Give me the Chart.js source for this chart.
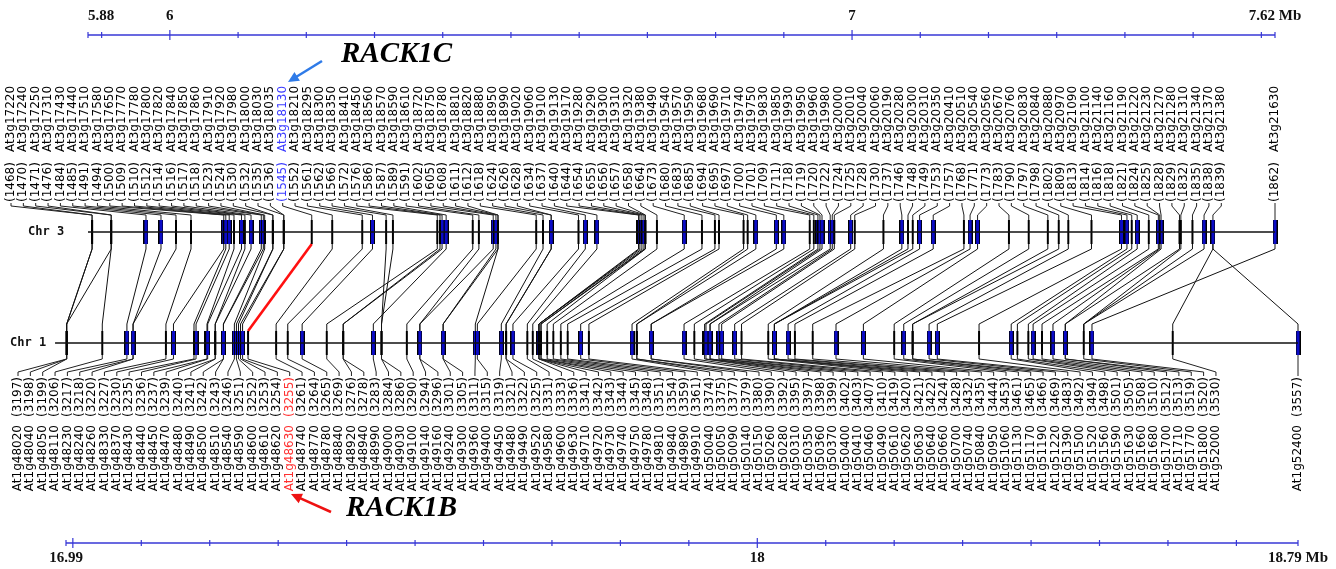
<!DOCTYPE html>
<html>
<head>
<meta charset="utf-8">
<script src="https://cdn.jsdelivr.net/npm/chart.js@4.4.1/dist/chart.umd.min.js"></script>
<style>
  html, body { margin: 0; padding: 0; background: #fff; }
</style>
</head>
<body>
<canvas id="chart" width="1336" height="569"></canvas>
<script>
// chromosome 3 genes (top row)
const chr3Names = [
  'At3g17220','At3g17240','At3g17250','At3g17310','At3g17430','At3g17440','At3g17510','At3g17580','At3g17650','At3g17770',
  'At3g17780','At3g17800','At3g17820','At3g17840','At3g17850','At3g17860','At3g17910','At3g17920','At3g17980','At3g18000',
  'At3g18030','At3g18035','At3g18130','At3g18210','At3g18295','At3g18300','At3g18350','At3g18410','At3g18450','At3g18560',
  'At3g18570','At3g18590','At3g18610','At3g18720','At3g18750','At3g18780','At3g18810','At3g18820','At3g18880','At3g18950',
  'At3g18990','At3g19020','At3g19060','At3g19100','At3g19130','At3g19170','At3g19280','At3g19290','At3g19300','At3g19310',
  'At3g19320','At3g19380','At3g19490','At3g19540','At3g19570','At3g19590','At3g19680','At3g19690','At3g19710','At3g19740',
  'At3g19750','At3g19830','At3g19850','At3g19930','At3g19950','At3g19960','At3g19980','At3g20000','At3g20010','At3g20040',
  'At3g20060','At3g20190','At3g20280','At3g20300','At3g20310','At3g20350','At3g20410','At3g20510','At3g20540','At3g20560',
  'At3g20670','At3g20760','At3g20830','At3g20840','At3g20880','At3g20970','At3g21090','At3g21100','At3g21140','At3g21160',
  'At3g21190','At3g21220','At3g21230','At3g21270','At3g21280','At3g21310','At3g21340','At3g21370','At3g21380','At3g21630'
];
const chr3Ids = [
  1468,1470,1471,1476,1484,1485,1491,1494,1500,1509, 1510,1512,1514,1516,1517,1518,1523,1524,1530,1532,
  1535,1536,1545,1552,1561,1562,1566,1572,1576,1586, 1587,1589,1591,1602,1605,1608,1611,1612,1618,1624,
  1626,1628,1634,1637,1640,1644,1654,1655,1656,1657, 1658,1664,1673,1680,1683,1685,1694,1695,1697,1700,
  1701,1709,1711,1718,1719,1720,1722,1724,1725,1728, 1730,1737,1746,1748,1749,1753,1757,1768,1771,1773,
  1783,1790,1797,1798,1802,1809,1813,1814,1816,1818, 1821,1824,1825,1828,1829,1832,1835,1838,1839,1862
];
// position in Mb
const chr3Pos = [
  5.886,5.886,5.914,5.914,5.965,5.987,6.009,6.031,6.079,6.082, 6.087,6.094,6.105,6.110,6.119,6.134,6.137,6.139,6.151,6.151,
  6.167,6.167,6.208,6.238,6.282,6.297,6.317,6.327,6.392,6.396, 6.399,6.405,6.444,6.453,6.474,6.478,6.481,6.481,6.537,6.547,
  6.559,6.559,6.599,6.609,6.626,6.687,6.689,6.692,6.695,6.697, 6.697,6.714,6.754,6.780,6.799,6.805,6.841,6.847,6.859,6.889,
  6.900,6.938,6.944,6.950,6.953,6.956,6.968,6.971,6.974,6.998, 7.004,7.046,7.073,7.082,7.089,7.099,7.119,7.164,7.173,7.184,
  7.230,7.259,7.287,7.303,7.317,7.351,7.395,7.403,7.410,7.418, 7.435,7.449,7.451,7.453,7.480,7.482,7.499,7.516,7.529,7.620
];
const chr3Blue = [
  0,0,0,0,1,1,0,0,1,1, 1,0,1,0,1,1,1,0,0,0, 0,0,0,0,0,1,0,0,0,0, 1,1,0,0,1,1,0,0,0,0,
  1,1,0,1,1,1,1,1,1,0, 0,0,1,0,0,0,0,0,1,1, 1,0,0,1,1,1,1,1,0,1, 0,0,1,0,0,1,1,0,1,1,
  0,0,0,0,0,0,1,1,0,1, 0,1,0,1,0,0,0,1,1,1
];

// chromosome 1 genes (bottom row)
const chr1Names = [
  'At1g48020','At1g48040','At1g48050','At1g48110','At1g48230','At1g48240','At1g48260','At1g48330','At1g48370','At1g48430',
  'At1g48440','At1g48450','At1g48470','At1g48480','At1g48490','At1g48500','At1g48510','At1g48540','At1g48590','At1g48600',
  'At1g48610','At1g48620','At1g48630','At1g48740','At1g48770','At1g48780','At1g48840','At1g48920','At1g48940','At1g48990',
  'At1g49000','At1g49030','At1g49100','At1g49140','At1g49160','At1g49240','At1g49300','At1g49360','At1g49400','At1g49450',
  'At1g49480','At1g49490','At1g49520','At1g49580','At1g49600','At1g49630','At1g49710','At1g49720','At1g49730','At1g49740',
  'At1g49750','At1g49780','At1g49810','At1g49840','At1g49890','At1g49910','At1g50040','At1g50050','At1g50090','At1g50140',
  'At1g50150','At1g50260','At1g50280','At1g50310','At1g50350','At1g50360','At1g50370','At1g50400','At1g50410','At1g50460',
  'At1g50490','At1g50610','At1g50620','At1g50630','At1g50640','At1g50660','At1g50700','At1g50740','At1g50840','At1g50950',
  'At1g51060','At1g51130','At1g51170','At1g51190','At1g51220','At1g51390','At1g51500','At1g51520','At1g51560','At1g51590',
  'At1g51630','At1g51660','At1g51680','At1g51700','At1g51710','At1g51770','At1g51800','At1g52000','At1g52400'
];
const chr1Ids = [
  3197,3198,3199,3206,3217,3218,3220,3227,3230,3235, 3236,3237,3239,3240,3241,3242,3243,3246,3251,3252,
  3253,3254,3255,3261,3264,3265,3269,3276,3278,3283, 3284,3286,3290,3294,3296,3301,3305,3311,3315,3319,
  3321,3322,3325,3331,3333,3336,3341,3342,3343,3344, 3345,3348,3351,3354,3359,3361,3374,3375,3377,3379,
  3380,3390,3392,3395,3397,3398,3399,3402,3403,3407, 3410,3419,3420,3421,3422,3424,3428,3432,3435,3444,
  3453,3461,3465,3466,3469,3483,3492,3494,3498,3501, 3505,3508,3510,3512,3513,3519,3520,3530,3557
];
const chr1Pos = [
  16.991,16.991,16.991,17.043,17.079,17.088,17.088,17.136,17.147,17.177, 17.180,17.196,17.197,17.208,17.208,17.220,17.220,17.236,17.239,17.242,
  17.245,17.248,17.256,17.297,17.314,17.335,17.371,17.395,17.395,17.439, 17.451,17.451,17.488,17.507,17.507,17.541,17.541,17.588,17.591,17.626,
  17.633,17.633,17.643,17.664,17.672,17.681,17.681,17.681,17.684,17.684, 17.693,17.702,17.713,17.723,17.742,17.754,17.817,17.824,17.824,17.845,
  17.845,17.893,17.908,17.923,17.925,17.931,17.931,17.944,17.948,17.967, 17.977,18.016,18.025,18.025,18.025,18.045,18.055,18.081,18.115,18.155,
  18.200,18.214,18.227,18.227,18.251,18.263,18.324,18.371,18.380,18.396, 18.403,18.416,18.432,18.450,18.450,18.477,18.489,18.607,18.790
];
const chr1Blue = [
  0,0,0,0,1,1,1,0,1,0, 1,1,1,0,0,1,1,1,1,1, 1,1,0,0,0,1,0,0,0,1, 0,0,0,1,1,1,1,1,1,1,
  0,0,1,0,0,1,1,0,0,0, 0,0,0,0,1,0,1,0,0,1, 1,1,0,1,1,1,1,1,1,1, 0,0,1,1,1,1,0,0,1,1,
  0,1,0,0,1,1,0,1,0,0, 1,0,1,1,1,0,1,0,1
];

// chr3 gene index -> chr1 gene index
const chr3Link = [
  0,1,2,3,4,5,6,7,8,9, 10,11,12,13,14,15,16,17,18,19, 20,21,22,23,24,25,30,31,26,27, 28,29,32,33,34,35,36,37,38,39,
  40,41,42,43,44,45,46,47,48,49, 50,51,52,53,54,55,56,57,58,59, 60,61,62,63,64,65,66,67,68,69, 70,71,72,73,74,75,76,77,78,79,
  80,81,82,83,84,85,86,87,88,89, 90,91,92,93,94,95,95,95,97,96
];
const extraLinks = [[98, 98]];

const highlight = { chr3: 22, chr1: 22 };   // RACK1C / RACK1B pair

const chr3Span = [5.88, 7.62];
const chr1Span = [16.99, 18.79];
const chr3TickValues = [5.88, 6, 7, 7.62];
const chr3TickLabels = ['5.88', '6', '7', '7.62 Mb'];
const chr1TickValues = [16.99, 18, 18.79];
const chr1TickLabels = ['16.99', '18', '18.79 Mb'];

// ---- layout (pixels) ----
const W = 1336, H = 569;
const top3 = { from: 88, to: 1275 };
const bot1 = { from: 66, to: 1298 };
const ROW = {
  axisTop: 35, axisTopLabel: 16,
  name3: 152, num3: 202,
  chr3: 232, chr1: 343,
  num1: 377, name1: 425,
  axisBot: 543, axisBotLabel: 558
};
const LABEL_GAP = 12.35;
const TOP_LABEL_START = 11;
const BOT_LABEL_START = 18;
const AXIS_BLUE = '#3737d6';
const GENE_BLUE = '#0b0bc8';

function scaleRange(span, px) {
  const per = (px.to - px.from) / (span[1] - span[0]);
  return { min: span[0] - px.from / per, max: span[1] + (W - px.to) / per };
}
const r3 = scaleRange(chr3Span, top3);
const r1 = scaleRange(chr1Span, bot1);

function barImage() {
  const c = document.createElement('canvas');
  c.width = 5; c.height = 24;
  const g = c.getContext('2d');
  g.fillStyle = '#000';
  g.fillRect(0, 0, 5, 24);
  g.fillStyle = GENE_BLUE;
  g.fillRect(1, 0, 3, 24);
  return c;
}
const blueBar = barImage();

function genePoints(pos, blue, want, y) {
  const out = [];
  pos.forEach((p, i) => { if (blue[i] === want) out.push({ x: p, y: y }); });
  return out;
}

function labelSlots(genePx, start) {
  const xs = genePx.map((g, i) => start + i * LABEL_GAP);
  for (let i = xs.length - 1; i >= 0; i--) {
    const next = i === xs.length - 1 ? Infinity : xs[i + 1];
    if (genePx[i] - xs[i] > LABEL_GAP * 3 && next - genePx[i] >= LABEL_GAP) xs[i] = genePx[i];
    else break;
  }
  return xs;
}

function vText(ctx, text, x, y, align) {
  ctx.save();
  ctx.translate(x, y);
  ctx.rotate(-Math.PI / 2);
  ctx.textAlign = align;
  ctx.textBaseline = 'middle';
  ctx.fillText(text, 0, 0);
  ctx.restore();
}

function drawAxis(ctx, scale, span, y, values, labels, labelY, firstLeft) {
  const a = scale.getPixelForValue(span[0]);
  const b = scale.getPixelForValue(span[1]);
  ctx.strokeStyle = AXIS_BLUE;
  ctx.lineWidth = 1.5;
  ctx.beginPath();
  ctx.moveTo(a, y); ctx.lineTo(b, y);
  ctx.stroke();
  ctx.lineWidth = 1.2;
  ctx.beginPath();
  const first = Math.ceil(span[0] * 10), last = Math.floor(span[1] * 10);
  const ticks = [span[0], span[1]];
  for (let k = first; k <= last; k++) ticks.push(k / 10);
  ticks.forEach(v => {
    const x = scale.getPixelForValue(v);
    const major = Math.abs(v - Math.round(v)) < 1e-9;
    ctx.moveTo(x, y - (major ? 5 : 3)); ctx.lineTo(x, y + (major ? 5 : 3));
  });
  ctx.stroke();
  ctx.fillStyle = '#111';
  ctx.font = 'bold 15px "Liberation Serif"';
  ctx.textBaseline = 'middle';
  values.forEach((v, i) => {
    ctx.textAlign = (firstLeft && i === 0) ? 'left' : 'center';
    ctx.fillText(labels[i], scale.getPixelForValue(v), labelY);
  });
}

function arrow(ctx, x0, y0, x1, y1, color) {
  const ang = Math.atan2(y1 - y0, x1 - x0);
  ctx.strokeStyle = color; ctx.fillStyle = color; ctx.lineWidth = 2.5;
  ctx.beginPath(); ctx.moveTo(x0, y0); ctx.lineTo(x1 - Math.cos(ang) * 8, y1 - Math.sin(ang) * 8); ctx.stroke();
  ctx.beginPath();
  ctx.moveTo(x1, y1);
  ctx.lineTo(x1 - Math.cos(ang - 0.45) * 12, y1 - Math.sin(ang - 0.45) * 12);
  ctx.lineTo(x1 - Math.cos(ang + 0.45) * 12, y1 - Math.sin(ang + 0.45) * 12);
  ctx.closePath(); ctx.fill();
}

const synteny = {
  id: 'synteny',
  beforeDatasetsDraw(chart) {
    const { ctx, scales } = chart;
    const x3 = scales.x3, x1 = scales.x1, y = scales.y;
    const g3 = chr3Pos.map(v => x3.getPixelForValue(v));
    const g1 = chr1Pos.map(v => x1.getPixelForValue(v));
    const l3 = labelSlots(g3, TOP_LABEL_START);
    const l1 = labelSlots(g1, BOT_LABEL_START);
    const c3 = y.getPixelForValue(ROW.chr3), c1 = y.getPixelForValue(ROW.chr1);

    ctx.save();
    // links between chromosomes
    const links = chr3Link.map((j, i) => [i, j]).concat(extraLinks);
    ctx.lineWidth = 1;
    ctx.strokeStyle = '#111';
    links.forEach(([i, j]) => {
      if (i === highlight.chr3 && j === highlight.chr1) return;
      ctx.beginPath();
      ctx.moveTo(g3[i], c3 + 11);
      ctx.lineTo(g3[i], c3 + 17);
      ctx.lineTo(g1[j], c1 - 19);
      ctx.lineTo(g1[j], c1 - 12);
      ctx.stroke();
    });
    ctx.strokeStyle = '#ff1010';
    ctx.lineWidth = 2.6;
    ctx.beginPath();
    ctx.moveTo(g3[highlight.chr3], c3 + 12);
    ctx.lineTo(g1[highlight.chr1], c1 - 12);
    ctx.stroke();

    // leader lines
    ctx.lineWidth = 1;
    ctx.strokeStyle = '#222';
    g3.forEach((g, i) => {
      ctx.beginPath();
      ctx.moveTo(l3[i], ROW.num3 + 1);
      ctx.lineTo(l3[i], ROW.num3 + 4);
      ctx.lineTo(g, c3 - 17);
      ctx.lineTo(g, c3 - 12);
      ctx.stroke();
    });
    g1.forEach((g, i) => {
      ctx.beginPath();
      ctx.moveTo(g, c1 + 12);
      ctx.lineTo(g, c1 + 16);
      ctx.lineTo(l1[i], ROW.num1 - 5);
      ctx.lineTo(l1[i], ROW.num1 - 1);
      ctx.stroke();
    });
    ctx.restore();
    chart.$slots = { l3, l1 };
  },
  afterDraw(chart) {
    const { ctx, scales } = chart;
    const { l3, l1 } = chart.$slots;
    ctx.save();
    ctx.font = '12px "DejaVu Sans"';
    chr3Names.forEach((n, i) => {
      ctx.fillStyle = i === highlight.chr3 ? '#3b3bff' : '#000';
      vText(ctx, n, l3[i], ROW.name3, 'left');
      vText(ctx, '(' + chr3Ids[i] + ')', l3[i], ROW.num3, 'left');
    });
    chr1Names.forEach((n, i) => {
      ctx.fillStyle = i === highlight.chr1 ? '#ff3030' : '#000';
      vText(ctx, '(' + chr1Ids[i] + ')', l1[i], ROW.num1, 'right');
      vText(ctx, n, l1[i], ROW.name1, 'right');
    });

    // chromosome names
    ctx.fillStyle = '#111';
    ctx.font = 'bold 12px "DejaVu Sans Mono"';
    ctx.textAlign = 'left';
    ctx.textBaseline = 'middle';
    ctx.fillText('Chr 3', 28, ROW.chr3);
    ctx.fillText('Chr 1', 10, ROW.chr1);

    drawAxis(ctx, scales.x3, chr3Span, ROW.axisTop, chr3TickValues, chr3TickLabels, ROW.axisTopLabel, true);
    drawAxis(ctx, scales.x1, chr1Span, ROW.axisBot, chr1TickValues, chr1TickLabels, ROW.axisBotLabel, false);

    // gene callouts
    ctx.font = 'bold italic 29px "Liberation Serif"';
    ctx.fillStyle = '#000';
    ctx.textAlign = 'left';
    ctx.textBaseline = 'middle';
    ctx.fillText('RACK1C', 341, 55);
    ctx.fillText('RACK1B', 346, 509);
    arrow(ctx, 322, 61, 288, 82, '#2f7be8');
    arrow(ctx, 331, 512, 291, 494, '#ee1111');
    ctx.restore();
  }
};

new Chart(document.getElementById('chart'), {
  type: 'scatter',
  data: {
    datasets: [
      { xAxisID: 'x3', yAxisID: 'y', data: chr3Span.map(v => ({ x: v, y: ROW.chr3 })),
        showLine: true, borderColor: '#111', borderWidth: 1.5, pointRadius: 0 },
      { xAxisID: 'x1', yAxisID: 'y', data: [{ x: 16.974, y: ROW.chr1 }, { x: chr1Span[1], y: ROW.chr1 }],
        showLine: true, borderColor: '#111', borderWidth: 1.5, pointRadius: 0 },
      { xAxisID: 'x3', yAxisID: 'y', data: genePoints(chr3Pos, chr3Blue, 0, ROW.chr3),
        pointStyle: 'line', rotation: 90, pointRadius: 12, pointBorderWidth: 2, pointBorderColor: '#000' },
      { xAxisID: 'x3', yAxisID: 'y', data: genePoints(chr3Pos, chr3Blue, 1, ROW.chr3),
        pointStyle: blueBar, pointRadius: 3 },
      { xAxisID: 'x1', yAxisID: 'y', data: genePoints(chr1Pos, chr1Blue, 0, ROW.chr1),
        pointStyle: 'line', rotation: 90, pointRadius: 12, pointBorderWidth: 2, pointBorderColor: '#000' },
      { xAxisID: 'x1', yAxisID: 'y', data: genePoints(chr1Pos, chr1Blue, 1, ROW.chr1),
        pointStyle: blueBar, pointRadius: 3 }
    ]
  },
  options: {
    responsive: false,
    animation: false,
    devicePixelRatio: 1,
    events: [],
    layout: { padding: 0, autoPadding: false },
    plugins: { legend: { display: false }, tooltip: { enabled: false } },
    scales: {
      x3: { type: 'linear', axis: 'x', display: false, min: r3.min, max: r3.max },
      x1: { type: 'linear', axis: 'x', display: false, min: r1.min, max: r1.max },
      y: { type: 'linear', display: false, min: 0, max: H, reverse: true }
    }
  },
  plugins: [synteny]
});
</script>
</body>
</html>
